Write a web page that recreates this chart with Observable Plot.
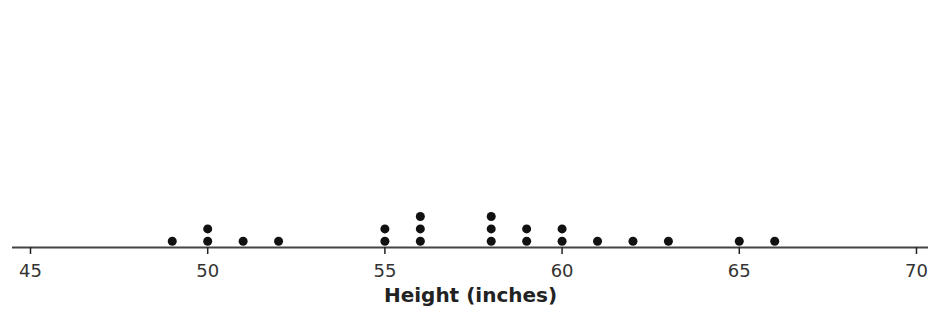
<!DOCTYPE html>
<html>
<head>
<meta charset="utf-8">
<script src="https://cdn.jsdelivr.net/npm/d3@7"></script>
<script src="https://cdn.jsdelivr.net/npm/@observablehq/plot@0.6"></script>
<style>
  html, body { margin: 0; padding: 0; background: #fff; }
</style>
</head>
<body>
<div id="chart"></div>
<script>
// Heights (inches), one value per dot
const heights = [49, 50, 50, 51, 52, 55, 55, 56, 56, 56, 58, 58, 58, 59, 59, 60, 60, 61, 62, 63, 65, 66];
const tickValues = [45, 50, 55, 60, 65, 70];
const xLabel = "Height (inches)";

const axisLevel = 0.5;      // y value of the number line

const chart = Plot.plot({
  width: 928,
  height: 316,
  marginLeft: 12,
  marginRight: 0,
  marginTop: 5,
  marginBottom: 69,
  style: {fontFamily: "'DejaVu Sans', Verdana, sans-serif", background: "#fff", color: "#222"},
  x: {domain: [44.492, 70.339]},
  y: {domain: [0.5, 20], axis: null},
  marks: [
    Plot.ruleY([axisLevel], {stroke: "#444", strokeWidth: 2}),
    Plot.axisX({ticks: tickValues, tickSize: 7, tickPadding: 10, fontSize: 18, label: null, stroke: "#222", strokeWidth: 1.5, strokeOpacity: 1, fill: "#333"}),
    Plot.dot(heights, Plot.stackY2({x: d => d, y: () => 1, r: 4.5, fill: "#111", stroke: "none"})),
    Plot.text([xLabel], {frameAnchor: "bottom", dy: 54, fontSize: 20, fontWeight: "bold", fill: "#222", text: d => d})
  ]
});
document.getElementById("chart").appendChild(chart);
</script>
</body>
</html>
